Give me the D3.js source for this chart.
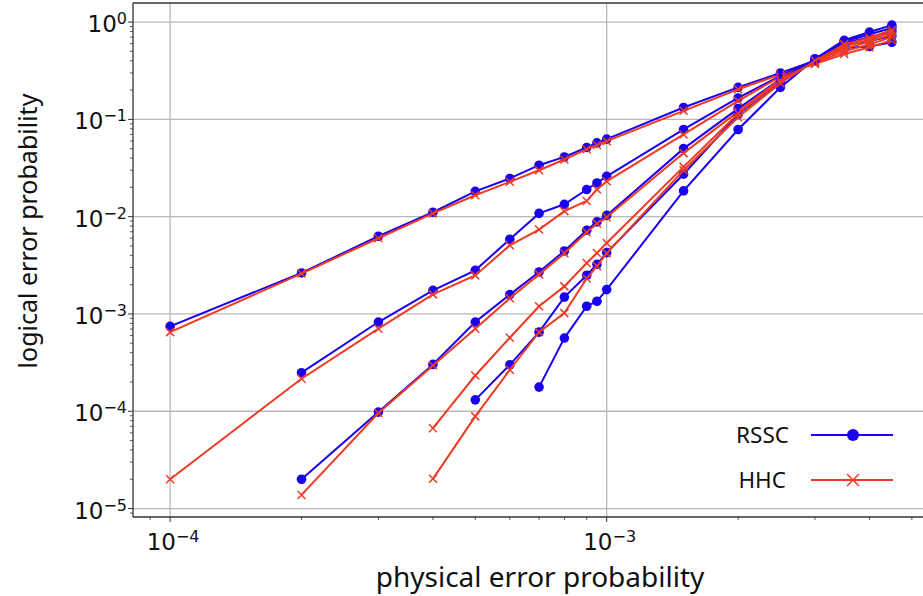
<!DOCTYPE html>
<html>
<head>
<meta charset="utf-8">
<script src="https://cdn.jsdelivr.net/npm/d3@7"></script>
<style>
  body { margin: 0; background: white; }
  svg { display: block; }
  .tick-lab { font-family: "DejaVu Sans", sans-serif; fill: #111; }
  .lab { font-family: "Noto Sans", "Open Sans", sans-serif; fill: #111; }
</style>
</head>
<body>
<div id="chart"></div>
<script>
// physical error probabilities (x values)
var pX = [1e-4, 2e-4, 3e-4, 4e-4, 5e-4, 6e-4, 7e-4, 8e-4, 9e-4, 9.5e-4, 1e-3,
          1.5e-3, 2e-3, 2.5e-3, 3e-3, 3.5e-3, 4e-3, 4.5e-3];

// logical error probabilities, one array per code distance (null = not simulated)
var rssc1 = [7.45e-4, 2.64e-3, 6.29e-3, 1.11e-2, 1.82e-2, 2.47e-2, 3.38e-2, 4.11e-2, 5.14e-2, 5.73e-2, 6.26e-2, 0.1325, 0.213, 0.30, 0.40, 0.54, 0.56, 0.62];
var hhc1  = [6.5e-4, 2.6e-3, 6.0e-3, 1.08e-2, 1.66e-2, 2.28e-2, 3.0e-2, 3.87e-2, 4.94e-2, 5.45e-2, 5.97e-2, 0.1224, 0.204, 0.29, 0.37, 0.47, 0.55, 0.65];
var rssc2 = [null, 2.49e-4, 8.26e-4, 1.75e-3, 2.81e-3, 5.86e-3, 1.08e-2, 1.34e-2, 1.90e-2, 2.22e-2, 2.6e-2, 7.87e-2, 0.166, 0.28, 0.405, 0.58, 0.64, 0.72];
var hhc2  = [2e-5, 2.16e-4, 7.06e-4, 1.59e-3, 2.49e-3, 5.08e-3, 7.37e-3, 1.14e-2, 1.45e-2, 1.9e-2, 2.31e-2, 7.0e-2, 0.155, 0.275, 0.38, 0.50, 0.59, 0.70];
var rssc3 = [null, 2e-5, 9.8e-5, 3.03e-4, 8.26e-4, 1.58e-3, 2.7e-3, 4.44e-3, 7.24e-3, 8.83e-3, 1.03e-2, 5.0e-2, 0.129, 0.26, 0.41, 0.61, 0.70, 0.80];
var hhc3  = [null, 1.38e-5, 9.6e-5, 2.95e-4, 7.06e-4, 1.45e-3, 2.55e-3, 4.2e-3, 6.9e-3, 8.5e-3, 9.86e-3, 4.5e-2, 0.12, 0.26, 0.39, 0.53, 0.63, 0.75];
var rssc4 = [null, null, null, null, 1.31e-4, 3.0e-4, 6.5e-4, 1.49e-3, 2.5e-3, 3.24e-3, 4.27e-3, 2.73e-2, 0.112, 0.245, 0.415, 0.63, 0.75, 0.87];
var hhc4  = [null, null, null, 6.7e-5, 2.33e-4, 5.7e-4, 1.2e-3, 1.92e-3, 3.34e-3, 4.23e-3, 5.37e-3, 3.25e-2, 0.115, 0.25, 0.395, 0.56, 0.66, 0.79];
var rssc5 = [null, null, null, null, null, null, 1.77e-4, 5.65e-4, 1.2e-3, 1.35e-3, 1.78e-3, 1.84e-2, 7.87e-2, 0.213, 0.42, 0.65, 0.79, 0.93];
var hhc5  = [null, null, null, 2.02e-5, 8.85e-5, 2.67e-4, 6.5e-4, 1.02e-3, 2.31e-3, 3.1e-3, 4.2e-3, 3.0e-2, 0.105, 0.235, 0.40, 0.59, 0.69, 0.83];

var xTicks = [1e-4, 1e-3];
var xTickExp = ["−4", "−3"];
var yTicks = [1e0, 1e-1, 1e-2, 1e-3, 1e-4, 1e-5];
var yTickExp = ["0", "−1", "−2", "−3", "−4", "−5"];

var width = 923, height = 596;
var blue = "#1a00f2", red = "#ee3b24";

var x = d3.scaleLog()
    .domain([Math.pow(10, -4.085), Math.pow(10, -2.264)])
    .range([133, 928]);
var y = d3.scaleLog()
    .domain([Math.pow(10, -5.087), Math.pow(10, 0.196)])
    .range([517, 3]);

var svg = d3.select("#chart").append("svg")
    .attr("width", width)
    .attr("height", height);

// grid
var grid = svg.append("g");
grid.selectAll(".gx").data(xTicks).enter().append("line")
    .attr("x1", function(d) { return x(d); }).attr("x2", function(d) { return x(d); })
    .attr("y1", 3).attr("y2", 517)
    .attr("stroke", "#b8b8b8").attr("stroke-width", 1.3);
grid.selectAll(".gy").data(yTicks).enter().append("line")
    .attr("x1", 133).attr("x2", 928)
    .attr("y1", function(d) { return y(d); }).attr("y2", function(d) { return y(d); })
    .attr("stroke", "#b8b8b8").attr("stroke-width", 1.3);

// minor ticks
var yMinor = [], xMinor = [];
for (var e = -6; e <= 0; e++) {
  for (var m = 2; m <= 9; m++) {
    var v = m * Math.pow(10, e);
    if (v > y.domain()[0] && v < y.domain()[1]) yMinor.push(v);
    if (v > x.domain()[0] && v < x.domain()[1]) xMinor.push(v);
  }
}
svg.selectAll(".ymin").data(yMinor).enter().append("line")
    .attr("x1", 130).attr("x2", 133)
    .attr("y1", function(d) { return y(d); }).attr("y2", function(d) { return y(d); })
    .attr("stroke", "#333").attr("stroke-width", 0.8);
svg.selectAll(".xmin").data(xMinor).enter().append("line")
    .attr("y1", 517).attr("y2", 520)
    .attr("x1", function(d) { return x(d); }).attr("x2", function(d) { return x(d); })
    .attr("stroke", "#333").attr("stroke-width", 0.8);
svg.selectAll(".ymaj").data(yTicks).enter().append("line")
    .attr("x1", 128).attr("x2", 133)
    .attr("y1", function(d) { return y(d); }).attr("y2", function(d) { return y(d); })
    .attr("stroke", "#333").attr("stroke-width", 1);
svg.selectAll(".xmaj").data(xTicks).enter().append("line")
    .attr("y1", 517).attr("y2", 522)
    .attr("x1", function(d) { return x(d); }).attr("x2", function(d) { return x(d); })
    .attr("stroke", "#333").attr("stroke-width", 1);

// tick labels as 10^n
yTicks.forEach(function(d, i) {
  var t = svg.append("text").attr("class", "tick-lab")
      .attr("x", 127).attr("y", y(d) + 10)
      .attr("text-anchor", "end").style("font-size", "23px");
  t.append("tspan").text("10");
  t.append("tspan").attr("dy", -8).style("font-size", "16px").text(yTickExp[i]);
});
xTicks.forEach(function(d, i) {
  var t = svg.append("text").attr("class", "tick-lab")
      .attr("x", x(d) + 3).attr("y", 550)
      .attr("text-anchor", "middle").style("font-size", "23px");
  t.append("tspan").text("10");
  t.append("tspan").attr("dy", -8).style("font-size", "16px").text(xTickExp[i]);
});

// series
var series = [
  {v: rssc1, c: blue, m: "o"}, {v: hhc1, c: red, m: "x"},
  {v: rssc2, c: blue, m: "o"}, {v: hhc2, c: red, m: "x"},
  {v: rssc3, c: blue, m: "o"}, {v: hhc3, c: red, m: "x"},
  {v: rssc4, c: blue, m: "o"}, {v: hhc4, c: red, m: "x"},
  {v: rssc5, c: blue, m: "o"}, {v: hhc5, c: red, m: "x"}
];

var line = d3.line()
    .defined(function(d) { return d.v != null; })
    .x(function(d) { return x(d.p); })
    .y(function(d) { return y(d.v); });

function drawMarker(g, m, c, cx, cy, r) {
  if (m == "o") {
    g.append("circle").attr("cx", cx).attr("cy", cy).attr("r", r).attr("fill", c);
  } else {
    g.append("path")
      .attr("d", "M" + (cx - r) + "," + (cy - r) + "L" + (cx + r) + "," + (cy + r) +
                 "M" + (cx - r) + "," + (cy + r) + "L" + (cx + r) + "," + (cy - r))
      .attr("stroke", c).attr("stroke-width", 1.5).attr("fill", "none");
  }
}

var plot = svg.append("g");
series.forEach(function(s) {
  var pts = pX.map(function(p, i) { return {p: p, v: s.v[i]}; });
  var g = plot.append("g");
  g.append("path").datum(pts)
      .attr("d", line)
      .attr("fill", "none").attr("stroke", s.c).attr("stroke-width", 2);
  pts.filter(function(d) { return d.v != null; }).forEach(function(d) {
    drawMarker(g, s.m, s.c, x(d.p), y(d.v), s.m == "o" ? 4.8 : 4);
  });
});

// spines
svg.append("line").attr("x1", 133).attr("x2", 133).attr("y1", 3).attr("y2", 517)
    .attr("stroke", "#333").attr("stroke-width", 1.3);
svg.append("line").attr("x1", 133).attr("x2", 928).attr("y1", 517).attr("y2", 517)
    .attr("stroke", "#333").attr("stroke-width", 1.3);
svg.append("line").attr("x1", 133).attr("x2", 928).attr("y1", 3).attr("y2", 3)
    .attr("stroke", "#333").attr("stroke-width", 1.3);

// legend
var legend = [{name: "RSSC", c: blue, m: "o", y: 435, tx: 789},
              {name: "HHC", c: red, m: "x", y: 480, tx: 786}];
legend.forEach(function(l) {
  svg.append("text").attr("class", "lab")
      .attr("x", l.tx).attr("y", l.y + 8)
      .attr("text-anchor", "end").style("font-size", "22.5px").text(l.name);
  svg.append("line").attr("x1", 811).attr("x2", 893).attr("y1", l.y).attr("y2", l.y)
      .attr("stroke", l.c).attr("stroke-width", 2);
  drawMarker(svg, l.m, l.c, 853, l.y, 6);
});

// axis labels
svg.append("text").attr("class", "lab")
    .attr("x", 540).attr("y", 587)
    .attr("text-anchor", "middle").style("font-size", "28px")
    .text("physical error probability");
svg.append("text").attr("class", "lab")
    .attr("transform", "translate(37,231) rotate(-90)")
    .attr("text-anchor", "middle").style("font-size", "25px")
    .text("logical error probability");
</script>
</body>
</html>
